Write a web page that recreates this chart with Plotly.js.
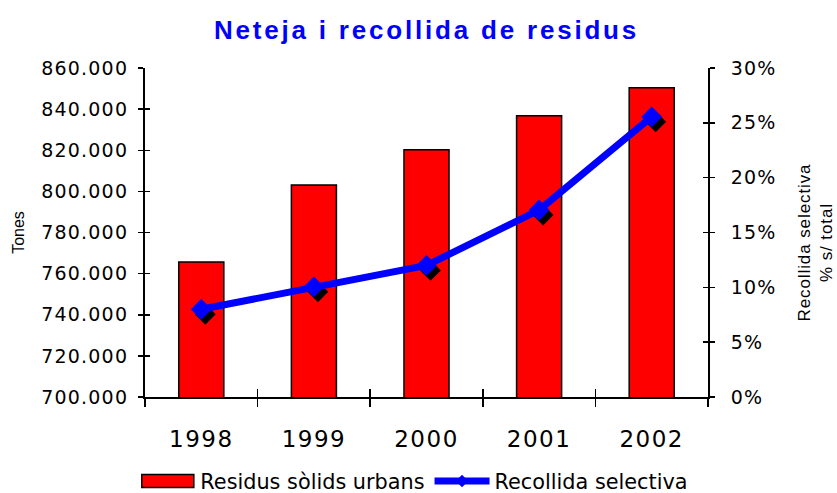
<!DOCTYPE html>
<html><head><meta charset="utf-8">
<script src="https://cdn.plot.ly/plotly-3.0.1.min.js"></script>
<style>
html,body{margin:0;padding:0;background:#fff;}
#chart .xtick text{letter-spacing:1.5px;}
#chart .ytick text, #chart .y3tick text{letter-spacing:1.2px;}
#chart .gtitle{letter-spacing:2.8px;}
#chart .y3title{letter-spacing:0.9px;}
</style>
</head><body>
<div id="chart" style="width:837px;height:493px;"></div>
<script>
const years = ['1998','1999','2000','2001','2002'];
const tones = [765700, 803100, 820200, 836800, 850400];
const selectiva = [0.080, 0.1005, 0.120, 0.1705, 0.2555];

const W = 837, H = 493;
const mL = 145, mR = 129, mT = 68, mB = 96;
const pw = W - mL - mR, ph = H - mT - mB;
const catPx = pw / years.length;
const shX = 4, shY = 5;            // shadow offset in px
const shadowDx = shX / catPx;
const shadowDy = shY / ph * 0.30;

const tickFont = {family:'DejaVu Sans', size:19, color:'#000'};
const noAxis = {visible:false, fixedrange:true};
const tickOnly = {showticklabels:false, showline:false, showgrid:false, zeroline:false,
                  ticks:'inside', tickwidth:1.5, tickcolor:'#000', fixedrange:true};

const traces = [
  {type:'bar', x:years, y:tones, name:'Residus sòlids urbans', xaxis:'x', yaxis:'y',
   marker:{color:'#ff0000', line:{color:'#000', width:1.5}}, hoverinfo:'skip'},
  {type:'scatter', mode:'markers', x:years, y:selectiva, xaxis:'x2', yaxis:'y2',
   marker:{symbol:'diamond', size:16, color:'#000'}, showlegend:false, hoverinfo:'skip'},
  {type:'scatter', mode:'lines+markers', x:years, y:selectiva, name:'Recollida selectiva',
   xaxis:'x3', yaxis:'y3',
   line:{color:'#0000ff', width:7}, marker:{symbol:'diamond', size:16, color:'#0000ff'}, hoverinfo:'skip'},
  // invisible copies that only carry the inward half of the crossing ticks
  {type:'scatter', mode:'markers', x:years, y:tones, xaxis:'x4', yaxis:'y4', showlegend:false,
   marker:{opacity:0}, hoverinfo:'skip'},
  {type:'scatter', mode:'markers', x:years, y:selectiva, xaxis:'x4', yaxis:'y5', showlegend:false,
   marker:{opacity:0}, hoverinfo:'skip'}
];

const layout = {
  width:W, height:H,
  margin:{l:mL, r:mR, t:mT, b:mB, pad:0},
  paper_bgcolor:'#fff', plot_bgcolor:'rgba(0,0,0,0)',
  separators:',.',
  showlegend:true,
  bargap:0.6,
  title:{text:'Neteja i recollida de residus', font:{family:'Liberation Sans', size:26, color:'#0000ff', weight:'bold'},
         x:0.5, xref:'paper', xanchor:'center', y:1-30/H, yref:'container', yanchor:'middle'},
  xaxis:{type:'category', range:[-0.5,4.5], tickson:'boundaries', ticks:'outside', ticklen:8, tickwidth:1.5,
         tickcolor:'#000', showline:true, linecolor:'#000', linewidth:2, showgrid:false, zeroline:false,
         tickfont:{family:'DejaVu Sans', size:23, color:'#000'}, ticklabelstandoff:20, fixedrange:true},
  yaxis:{range:[700000,860000], dtick:20000, tickformat:',d', ticks:'outside', ticklen:5, tickwidth:1.5,
         tickcolor:'#000', showline:true, linecolor:'#000', linewidth:2, showgrid:false, zeroline:false,
         tickfont:tickFont, ticklabelstandoff:6,
         title:{text:'Tones', font:{family:'Liberation Sans', size:16, color:'#000'}, standoff:21}},
  xaxis2:Object.assign({overlaying:'x', anchor:'y2', type:'category', range:[-0.5-shadowDx, 4.5-shadowDx]}, noAxis),
  yaxis2:Object.assign({overlaying:'y', anchor:'x2', range:[shadowDy, 0.30+shadowDy]}, noAxis),
  xaxis3:Object.assign({overlaying:'x', anchor:'y3', type:'category', range:[-0.5, 4.5]}, noAxis),
  yaxis3:{overlaying:'y', side:'right', anchor:'x3', range:[0,0.30], dtick:0.05, tickformat:'.0%', ticks:'outside', ticklen:5,
          tickwidth:1.5, tickcolor:'#000', showline:true, linecolor:'#000', linewidth:2, showgrid:false, zeroline:false,
          tickfont:tickFont, ticklabelstandoff:12,
          title:{text:'Recollida selectiva<br>% s/ total', font:{family:'Liberation Sans', size:17, color:'#000'}, standoff:26}},
  // overlay axes carrying only inward ticks, so the ticks cross the axis lines
  xaxis4:Object.assign({overlaying:'x', anchor:'y4', type:'category', range:[-0.5,4.5], tickson:'boundaries', ticklen:8}, tickOnly),
  yaxis4:Object.assign({overlaying:'y', anchor:'x4', side:'left', range:[700000,860000], dtick:20000, ticklen:5}, tickOnly),
  yaxis5:Object.assign({overlaying:'y', anchor:'x4', side:'right', range:[0,0.30], dtick:0.05, ticklen:5}, tickOnly),
  legend:{orientation:'h', x:0.495, xref:'container', xanchor:'center', y:0, yref:'container', yanchor:'bottom',
          font:{family:'DejaVu Sans', size:20.8, color:'#000'}, itemwidth:55, tracegroupgap:0}
};

Plotly.newPlot('chart', traces, layout, {displayModeBar:false, staticPlot:true}).then(function(gd){
  // widen the bar legend swatch to a flat rectangle like the original
  gd.querySelectorAll('.legend .legendpoints path.legendbar, .legend .legendpoints .legendundefined').forEach(function(p){
    p.setAttribute('d', 'M26,6.5H-26V-6.5H26Z');
  });
  // smaller diamond on the legend line, as in the original
  gd.querySelectorAll('.legend path.scatterpts').forEach(function(p){
    const t = p.getAttribute('transform') || '';
    p.setAttribute('transform', t + ' scale(0.6)');
  });
  // nudge the legend a little lower, as in the original
  const lg = gd.querySelector('g.legend');
  if (lg) lg.setAttribute('transform', (lg.getAttribute('transform') || '') + ' translate(0,9)');
  const t3 = gd.querySelector('.y3title');
  if (t3) t3.setAttribute('transform', 'translate(0,10) ' + (t3.getAttribute('transform') || ''));
});
</script>
</body></html>
